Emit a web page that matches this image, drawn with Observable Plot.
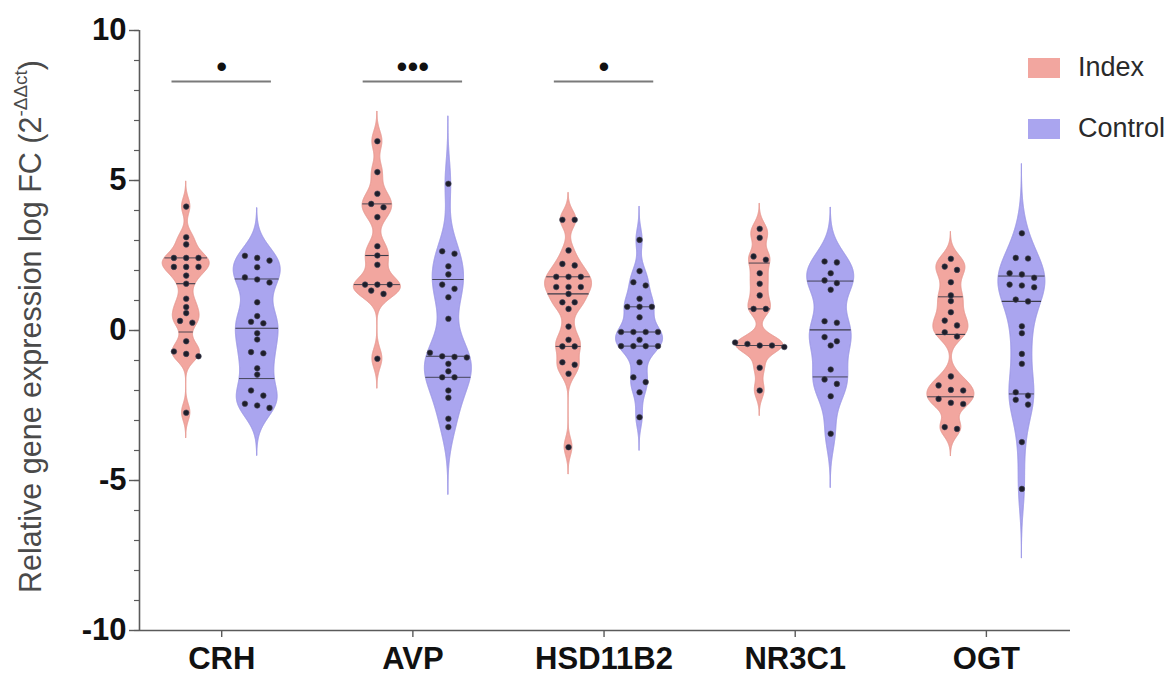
<!DOCTYPE html>
<html><head><meta charset="utf-8">
<script src="https://cdn.jsdelivr.net/npm/d3@7"></script>
<script src="https://cdn.jsdelivr.net/npm/@observablehq/plot@0.6"></script>
<style>
body{margin:0;background:#fff;font-family:"Liberation Sans",Arial,sans-serif;}
#wrap{position:relative;width:1176px;height:675px;overflow:hidden;}
.lg{position:absolute;display:flex;align-items:center;font-size:27px;color:#2a2a2a;}
.sw{width:32px;height:20px;margin-right:18px;}
</style></head><body><div id="wrap"></div>
<script>
const genes = ["CRH","AVP","HSD11B2","NR3C1","OGT"];
const groups = ["Index","Control"];
const yTicks = [-10,-5,0,5,10];

const crhIndex = [4.13,3.11,2.87,2.42,2.42,2.42,2.12,2.12,2.12,1.83,1.56,1.06,0.78,0.58,0.32,0.26,-0.36,-0.7,-0.78,-0.86,-2.74];
const crhControl = [2.49,2.42,2.33,2.11,1.77,1.7,1.6,0.94,0.48,0.29,0.24,-0.09,-0.3,-0.72,-0.76,-1.26,-1.47,-2.0,-2.17,-2.44,-2.5,-2.58];
const avpIndex = [6.31,5.28,4.56,4.22,4.11,3.78,2.81,2.5,2.19,1.53,1.53,1.53,1.33,1.22,-0.94];
const avpControl = [4.89,2.64,2.56,2.14,1.87,1.53,1.39,1.11,0.39,-0.74,-0.86,-0.88,-0.9,-1.11,-1.36,-1.56,-1.56,-2.0,-2.24,-2.94,-3.22];
const hsdIndex = [3.69,3.69,2.67,2.22,2.17,1.79,1.79,1.79,1.45,1.45,1.45,1.22,0.94,0.94,0.72,0.13,-0.31,-0.53,-0.53,-1.06,-1.14,-1.44,-3.89];
const hsdControl = [3.02,1.98,1.61,1.5,1.06,0.79,0.79,0.79,0.44,-0.05,-0.05,-0.05,-0.05,-0.31,-0.52,-0.52,-0.52,-0.52,-1.06,-1.56,-1.72,-2.06,-2.89];
const nr3c1Index = [3.39,3.09,2.47,2.36,1.91,1.56,1.17,0.72,0.72,-0.4,-0.45,-0.5,-0.5,-0.55,-1.24,-2.0];
const nr3c1Control = [2.3,2.27,1.91,1.67,1.58,1.36,0.31,0.26,-0.22,-0.36,-0.5,-1.3,-1.63,-1.78,-2.19,-3.44];
const ogtIndex = [2.39,2.13,2.02,1.61,1.17,0.98,0.61,0.33,0.17,-0.06,-0.2,-1.53,-1.83,-1.98,-2.0,-2.28,-2.41,-2.45,-3.22,-3.28];
const ogtControl = [3.24,2.42,2.4,1.91,1.87,1.76,1.53,1.5,1.44,1.03,0.97,0.14,-0.09,-0.78,-1.11,-2.06,-2.17,-2.31,-2.47,-3.72,-5.28];

const series = [
  {gene:"CRH", group:"Index", values:crhIndex}, {gene:"CRH", group:"Control", values:crhControl},
  {gene:"AVP", group:"Index", values:avpIndex}, {gene:"AVP", group:"Control", values:avpControl},
  {gene:"HSD11B2", group:"Index", values:hsdIndex}, {gene:"HSD11B2", group:"Control", values:hsdControl},
  {gene:"NR3C1", group:"Index", values:nr3c1Index}, {gene:"NR3C1", group:"Control", values:nr3c1Control},
  {gene:"OGT", group:"Index", values:ogtIndex}, {gene:"OGT", group:"Control", values:ogtControl}
];
// kernel smoothing per violin (same order as genes)
const bandwidth = {Index:[0.28,0.33,0.3,0.28,0.3], Control:[0.53,0.75,0.37,0.6,0.77]};
const significance = [{gene:"CRH", stars:"•"}, {gene:"AVP", stars:"•••"}, {gene:"HSD11B2", stars:"•"}];
const colors = {Index:"#f2a69f", Control:"#aaa5ef"};
const strokes = {Index:"#e8978f", Control:"#9893e6"};

// layout
const width = 1176, height = 675;
const mL = 139, mR = 106, mT = 30, mB = 45;
const xDomain = [-0.43, 4.44];
const pxPerUnit = (width - mL - mR) / (xDomain[1] - xDomain[0]);
const groupOffset = 35.5 / pxPerUnit;
const halfW = 23.5 / pxPerUnit;
const dotStep = 12.3 / pxPerUnit;

const gauss = (y, v, bw) => Math.exp(-0.5 * ((y - v) / bw) ** 2);
function quantile(sorted, p) {
  const pos = p * (sorted.length + 1) - 1;
  const lo = Math.max(0, Math.min(sorted.length - 1, Math.floor(pos)));
  const hi = Math.max(0, Math.min(sorted.length - 1, Math.ceil(pos)));
  return sorted[lo] + (sorted[hi] - sorted[lo]) * (pos - Math.floor(pos));
}

const areaData = [], quartData = [], pointData = [];
for (const s of series) {
  const gi = genes.indexOf(s.gene);
  const c = gi + (s.group === "Index" ? -groupOffset : groupOffset);
  const bw = bandwidth[s.group][gi];
  const vals = s.values;
  const lo = d3.min(vals) - 3 * bw, hi = d3.max(vals) + 3 * bw;
  const grid = d3.range(lo, hi, 0.01).concat([hi]);
  const dens = grid.map(y => d3.sum(vals, v => gauss(y, v, bw)));
  const maxD = d3.max(dens);
  const key = s.gene + "-" + s.group;
  grid.forEach((y, i) => {
    const w = dens[i] / maxD * halfW;
    areaData.push({key, group: s.group, y, x1: c - w, x2: c + w});
  });
  const sorted = vals.slice().sort(d3.ascending);
  [0.25, 0.5, 0.75].forEach(p => {
    const q = quantile(sorted, p);
    const w = d3.sum(vals, v => gauss(q, v, bw)) / maxD * halfW;
    quartData.push({key, q, x1: c - w, x2: c + w, median: p === 0.5});
  });
  // simple horizontal spreading of near-equal values
  const desc = vals.slice().sort(d3.descending);
  let row = [];
  const flush = () => {
    const n = row.length;
    row.forEach((v, j) => pointData.push({key, v, x: c + (j - (n - 1) / 2) * dotStep}));
    row = [];
  };
  for (const v of desc) {
    if (row.length && row[0] - v > 0.18) flush();
    row.push(v);
  }
  flush();
}

const sigLevel = 8.3, starLevel = 8.45;

const plot = Plot.plot({
  width, height,
  marginLeft: mL, marginRight: mR, marginTop: mT, marginBottom: mB,
  style: {fontFamily: "'Liberation Sans', Arial, sans-serif", background: "#fff", overflow: "visible"},
  x: {domain: xDomain, axis: null},
  y: {domain: [-10, 10], axis: null},
  marks: [
    ...groups.map(g => Plot.areaX(areaData.filter(d => d.group === g), {
      y: "y", x1: "x1", x2: "x2", z: "key", fill: colors[g], stroke: strokes[g], strokeWidth: 1, curve: "linear"
    })),
    Plot.ruleY(quartData, {y: "q", x1: "x1", x2: "x2", stroke: "#3a3a48", strokeWidth: d => d.median ? 1.1 : 0.9, strokeDasharray: d => d.median ? "4,2" : "2,2"}),
    Plot.dot(pointData, {x: "x", y: "v", r: 2.8, fill: "#1e1e2a", stroke: "#46465a", strokeWidth: 0.6}),
    Plot.ruleY(significance, {y: sigLevel, x1: d => genes.indexOf(d.gene) - 0.26, x2: d => genes.indexOf(d.gene) + 0.26, stroke: "#7a7a7a", strokeWidth: 2}),
    Plot.text(significance, {x: d => genes.indexOf(d.gene), y: starLevel, text: "stars", fontSize: 31, fill: "#111", lineAnchor: "bottom"}),
    // axes
    Plot.ruleX([xDomain[0]], {stroke: "#5a5a5a", strokeWidth: 1.6}),
    Plot.ruleY([-10], {stroke: "#5a5a5a", strokeWidth: 1.6}),
    Plot.axisY({ticks: d3.range(-10, 11), tickSize: 5, tickFormat: () => "", stroke: "#5a5a5a", strokeWidth: 1.2, label: null}),
    Plot.axisY({ticks: yTicks, tickSize: 10, tickPadding: 3, tickFormat: d => String(d), fontSize: 31, fontWeight: "bold", fill: "#111", stroke: "#5a5a5a", strokeWidth: 1.4, label: null}),
    Plot.axisX({ticks: d3.range(genes.length), tickSize: 7, tickPadding: 9, tickFormat: i => genes[i], fontSize: 31, fontWeight: "bold", fill: "#111", stroke: "#5a5a5a", strokeWidth: 1.4, label: null}),
    Plot.text(["Relative gene expression log FC (2"], {frameAnchor: "left", dx: -108, dy: -4, rotate: -90, textAnchor: "middle", fontSize: 30.5, fill: "#4a4a4a", className: "ytitle"})
  ]
});

// add superscript to the y title
const t = plot.querySelector(".ytitle text");
if (t) {
  const base = t.textContent;
  t.textContent = "";
  const sel = d3.select(t);
  sel.append("tspan").text(base);
  sel.append("tspan").attr("font-size", "0.62em").attr("dy", "-0.75em").text("-ΔΔct");
  sel.append("tspan").attr("dy", "0.465em").text(")");
}

const wrap = document.getElementById("wrap");
wrap.appendChild(plot);
const legendPos = [{g: "Index", top: 52}, {g: "Control", top: 113}];
for (const l of legendPos) {
  const div = document.createElement("div");
  div.className = "lg";
  div.style.left = "1028px";
  div.style.top = l.top + "px";
  div.innerHTML = `<div class="sw" style="background:${colors[l.g]}"></div><span>${l.g}</span>`;
  wrap.appendChild(div);
}
</script></body></html>
